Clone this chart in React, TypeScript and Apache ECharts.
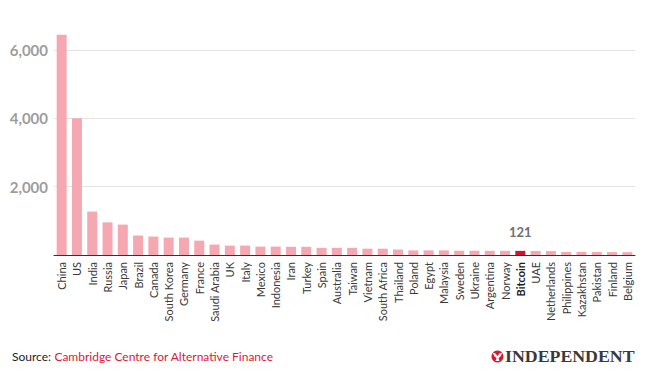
import React, { useEffect, useRef } from "react";
import * as echarts from "echarts";

const categories = [
  "China", "US", "India", "Russia", "Japan", "Brazil", "Canada", "South Korea", "Germany", "France",
  "Saudi Arabia", "UK", "Italy", "Mexico", "Indonesia", "Iran", "Turkey", "Spain", "Australia", "Taiwan",
  "Vietnam", "South Africa", "Thailand", "Poland", "Egypt", "Malaysia", "Sweden", "Ukraine", "Argentina", "Norway",
  "Bitcoin", "UAE", "Netherlands", "Philippines", "Kazakhstan", "Pakistan", "Finland", "Belgium",
];
const values = [
  6450, 4000, 1270, 955, 890, 570, 540, 510, 510, 420,
  305, 275, 275, 245, 245, 240, 240, 210, 210, 210,
  185, 185, 160, 135, 135, 135, 125, 125, 122, 122,
  121, 118, 115, 90, 90, 88, 85, 82,
];
const highlight = "Bitcoin";
const yTicks = [0, 2000, 4000, 6000];
const sourceLabel = "Source:";
const sourceName = "Cambridge Centre for Alternative Finance";
const brand = "INDEPENDENT";

const PINK = "#f5a8b1";
const RED = "#d2122e";

export default function App() {
  const ref = useRef<HTMLDivElement>(null);
  useEffect(() => {
    if (!ref.current) return;
    const chart = echarts.init(ref.current, undefined, { renderer: "svg" });
    const data = values.map((v, i) =>
      categories[i] === highlight
        ? {
            value: v,
            itemStyle: { color: RED },
            label: {
              show: true,
              position: "top",
              distance: 12,
              formatter: String(v),
              fontFamily: "Lato",
              fontWeight: "bold",
              fontSize: 13,
              color: "#707070",
            },
          }
        : { value: v }
    );
    chart.setOption({
      animation: false,
      backgroundColor: "#ffffff",
      grid: { left: 54, right: 22, top: 50, bottom: 119, containLabel: false },
      xAxis: {
        type: "category",
        data: categories,
        axisLine: { show: true, lineStyle: { color: "#333333", width: 1 } },
        axisTick: { show: false },
        axisLabel: {
          rotate: 90,
          interval: 0,
          margin: 7,
          fontFamily: "Lato",
          fontSize: 11,
          color: "#3a3a3a",
          formatter: (v: string) => (v === highlight ? `{b|${v}}` : v),
          rich: {
            b: { fontFamily: "Lato", fontSize: 11, fontWeight: "bold", color: "#222222" },
          },
        },
      },
      yAxis: {
        type: "value",
        min: yTicks[0],
        max: yTicks[yTicks.length - 1],
        interval: yTicks[1] - yTicks[0],
        axisLine: { show: false },
        axisTick: { show: false },
        splitLine: { lineStyle: { color: "#e3e3e3", width: 1 } },
        axisLabel: {
          margin: 6,
          fontFamily: "Lato",
          fontWeight: "bold",
          fontSize: 15,
          color: "#9d9d9d",
          formatter: (v: number) => (v === 0 ? "" : v.toLocaleString("en-US")),
        },
      },
      series: [
        {
          type: "bar",
          data,
          barWidth: 10,
          clip: false,
          itemStyle: { color: PINK },
        },
      ],
      graphic: [
        {
          type: "text",
          left: 12,
          top: 350,
          style: {
            text: `{a|${sourceLabel}} {b|${sourceName}}`,
            rich: {
              a: { fontFamily: "Lato", fontSize: 12, fill: "#222222" },
              b: { fontFamily: "Lato", fontSize: 12, fill: "#d9183b" },
            },
          },
        },
        {
          type: "circle",
          shape: { cx: 497.5, cy: 356.5, r: 6 },
          style: { fill: "#d8182f" },
        },
        {
          type: "polygon",
          shape: {
            points: [
              [492.5, 352.5], [495.5, 353.5], [497.5, 356], [499.5, 353.5], [502.5, 352.5],
              [500.5, 356.5], [498.5, 358], [499.5, 361], [495.5, 361], [496.5, 358], [494.5, 356.5],
            ],
          },
          style: { fill: "#ffffff" },
        },
        {
          type: "text",
          x: 505,
          y: 356.5,
          scaleX: 1.08,
          originX: 0,
          originY: 0,
          style: {
            text: brand,
            fontFamily: "Liberation Serif",
            fontWeight: "bold",
            fontSize: 16.5,
            fill: "#3a3a3a",
            verticalAlign: "middle",
          },
        },
      ],
    });
    return () => chart.dispose();
  }, []);
  return (
    <div
      ref={ref}
      style={{ position: "absolute", left: 0, top: 0, width: 657, height: 374 }}
    />
  );
}
